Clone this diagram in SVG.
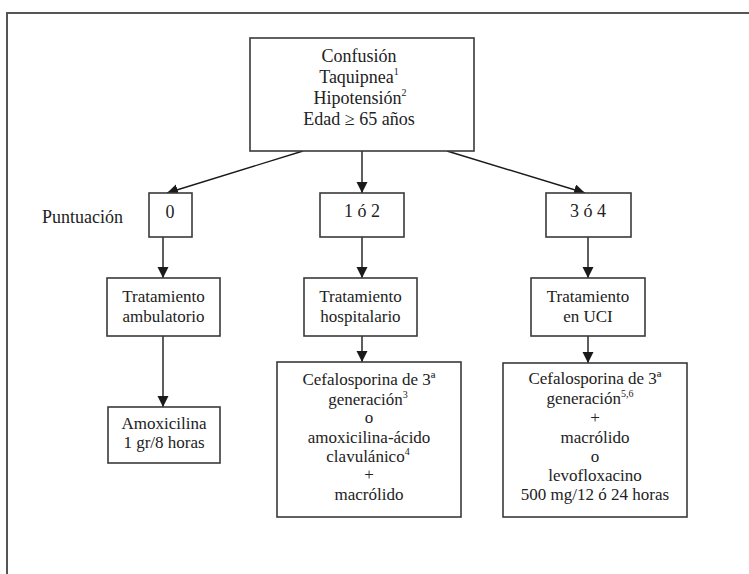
<svg xmlns="http://www.w3.org/2000/svg" width="749" height="574" viewBox="0 0 749 574">
<defs>
<marker id="ah" markerUnits="userSpaceOnUse" markerWidth="12" markerHeight="12" refX="11" refY="5.5" orient="auto">
<path d="M0,0 L11,5.5 L0,11 Z" fill="#1a1a1a"/>
</marker>
<style>
.box{fill:#fff;stroke:#3a3a3a;stroke-width:1.6}
.t{font-family:"Liberation Serif","Times New Roman",serif;font-size:17px;fill:#222;text-anchor:middle}
.b{font-size:18px}
.sup{font-size:10px}
.edge{stroke:#1a1a1a;stroke-width:1.4;fill:none;marker-end:url(#ah)}
</style>
</defs>
<rect width="749" height="574" fill="#fff"/>
<path d="M7,574 V13 H749" fill="none" stroke="#555" stroke-width="2"/>

<g id="connectors">
<path class="edge" d="M303,151 L167,193"/>
<path class="edge" d="M362,151 V193"/>
<path class="edge" d="M447,151 L585,193"/>
<path class="edge" d="M163,237 V278"/>
<path class="edge" d="M362,237 V278"/>
<path class="edge" d="M588,237 V278"/>
<path class="edge" d="M163,336 V407"/>
<path class="edge" d="M362,336 V362"/>
<path class="edge" d="M588,336 V363"/>
</g>

<g id="criterios">
<rect class="box" x="250" y="38" width="224" height="113"/>
<text class="t b" x="359" y="62">Confusión</text>
<text class="t b" x="359" y="83">Taquipnea<tspan class="sup" dy="-8">1</tspan></text>
<text class="t b" x="360" y="104">Hipotensión<tspan class="sup" dy="-8">2</tspan></text>
<text class="t b" x="359" y="125">Edad ≥ 65 años</text>
</g>

<g id="puntuacion-label">
<text class="t b" x="42" y="223" style="text-anchor:start">Puntuación</text>
</g>

<g id="p0">
<rect class="box" x="149" y="193" width="43" height="44"/>
<text class="t b" x="170" y="218">0</text>
</g>
<g id="p12">
<rect class="box" x="320" y="193" width="84" height="44"/>
<text class="t b" x="362" y="217">1 ó 2</text>
</g>
<g id="p34">
<rect class="box" x="546" y="193" width="85" height="44"/>
<text class="t b" x="588" y="217">3 ó 4</text>
</g>

<g id="ambulatorio">
<rect class="box" x="107" y="278" width="113" height="58"/>
<text class="t" x="163.5" y="302">Tratamiento</text>
<text class="t" x="163.5" y="322">ambulatorio</text>
</g>
<g id="hospitalario">
<rect class="box" x="304" y="278" width="113" height="58"/>
<text class="t" x="360.5" y="302">Tratamiento</text>
<text class="t" x="360.5" y="322">hospitalario</text>
</g>
<g id="uci">
<rect class="box" x="531" y="278" width="114" height="58"/>
<text class="t" x="588" y="302">Tratamiento</text>
<text class="t" x="588" y="322">en UCI</text>
</g>

<g id="amoxicilina">
<rect class="box" x="108" y="407" width="112" height="56"/>
<text class="t" x="164" y="429">Amoxicilina</text>
<text class="t" x="164" y="448">1 gr/8 horas</text>
</g>

<g id="trat-hosp">
<rect class="box" x="277" y="362" width="184" height="155"/>
<text class="t" x="369" y="385">Cefalosporina de 3ª</text>
<text class="t" x="368" y="405">generación<tspan class="sup" dy="-7">3</tspan></text>
<text class="t" x="369" y="423">o</text>
<text class="t" x="369" y="443">amoxicilina-ácido</text>
<text class="t" x="368" y="462">clavulánico<tspan class="sup" dy="-7">4</tspan></text>
<text class="t" x="369" y="480">+</text>
<text class="t" x="369" y="500">macrólido</text>
</g>

<g id="trat-uci">
<rect class="box" x="503" y="363" width="184" height="154"/>
<text class="t" x="595" y="384">Cefalosporina de 3ª</text>
<text class="t" x="590" y="404">generación<tspan class="sup" dy="-7">5,6</tspan></text>
<text class="t" x="595" y="423">+</text>
<text class="t" x="595" y="443">macrólido</text>
<text class="t" x="595" y="462">o</text>
<text class="t" x="595" y="481">levofloxacino</text>
<text class="t" x="595" y="500">500 mg/12 ó 24 horas</text>
</g>
</svg>
